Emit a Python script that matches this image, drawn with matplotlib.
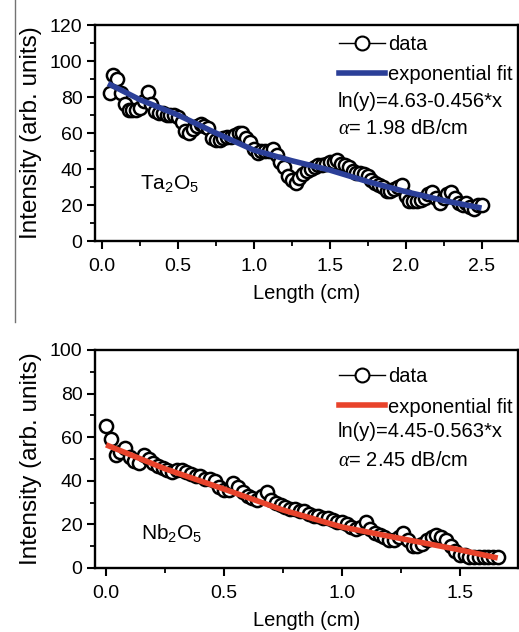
import matplotlib
matplotlib.use('Agg')
import matplotlib.pyplot as plt
from matplotlib.lines import Line2D
from matplotlib.ticker import MultipleLocator, FormatStrFormatter

plt.rcParams['font.family'] = ['Liberation Sans', 'DejaVu Sans']
plt.rcParams['mathtext.fontset'] = 'custom'
plt.rcParams['mathtext.rm'] = 'Liberation Sans'
plt.rcParams['mathtext.it'] = 'Liberation Serif:italic'

# Ta2O5 data (top panel)
ta_x = [0.050, 0.075, 0.100, 0.125, 0.150, 0.175, 0.200, 0.225, 0.250, 0.275,
        0.300, 0.325, 0.350, 0.375, 0.400, 0.425, 0.450, 0.475, 0.500, 0.525,
        0.550, 0.575, 0.600, 0.625, 0.650, 0.675, 0.700, 0.725, 0.750, 0.775,
        0.800, 0.825, 0.850, 0.875, 0.900, 0.925, 0.950, 0.975, 1.000, 1.025,
        1.050, 1.075, 1.100, 1.125, 1.150, 1.175, 1.200, 1.225, 1.250, 1.275,
        1.300, 1.325, 1.350, 1.375, 1.400, 1.425, 1.450, 1.475, 1.500, 1.525,
        1.550, 1.575, 1.600, 1.625, 1.650, 1.675, 1.700, 1.725, 1.750, 1.775,
        1.800, 1.825, 1.850, 1.875, 1.900, 1.925, 1.950, 1.975, 2.000, 2.025,
        2.050, 2.075, 2.100, 2.125, 2.150, 2.175, 2.200, 2.225, 2.250, 2.275,
        2.300, 2.325, 2.350, 2.375, 2.400, 2.425, 2.450, 2.475, 2.500]
ta_y = [82, 92, 90, 82, 76, 73, 73, 73, 74, 78,
        83, 76, 72, 71, 71, 70, 70, 70, 69, 66,
        61, 60, 62, 64, 65, 64, 63, 57, 56, 56,
        57, 58, 58, 59, 60, 60, 57, 55, 51, 49,
        50, 50, 50, 51, 48, 44, 41, 36, 34, 32,
        35, 37, 39, 40, 41, 42, 42, 43, 44, 44,
        45, 43, 42, 41, 39, 38, 38, 37, 36, 34,
        32, 31, 30, 28, 28, 29, 30, 31, 25, 22,
        22, 22, 23, 24, 26, 27, 24, 21, 24, 26,
        27, 24, 21, 20, 21, 19, 18, 20, 20]
ta_fit_x = [0.04, 0.25, 0.5, 0.75, 1.0, 1.25, 1.5, 1.75, 2.0, 2.25, 2.5]
ta_fit_y = [87.5, 78.5, 70.0, 60.0, 50.5, 44.6, 39.4, 33.0, 27.4, 22.5, 18.3]

# Nb2O5 data (bottom panel)
nb_x = [0.00, 0.02, 0.04, 0.06, 0.08, 0.10, 0.12, 0.14, 0.16, 0.18,
        0.20, 0.22, 0.24, 0.26, 0.28, 0.30, 0.32, 0.34, 0.36, 0.38,
        0.40, 0.42, 0.44, 0.46, 0.48, 0.50, 0.52, 0.54, 0.56, 0.58,
        0.60, 0.62, 0.64, 0.66, 0.68, 0.70, 0.72, 0.74, 0.76, 0.78,
        0.80, 0.82, 0.84, 0.86, 0.88, 0.90, 0.92, 0.94, 0.96, 0.98,
        1.00, 1.02, 1.04, 1.06, 1.08, 1.10, 1.12, 1.14, 1.16, 1.18,
        1.20, 1.22, 1.24, 1.26, 1.28, 1.30, 1.32, 1.34, 1.36, 1.38,
        1.40, 1.42, 1.44, 1.46, 1.48, 1.50, 1.52, 1.54, 1.56, 1.58,
        1.60, 1.62, 1.64, 1.66]
nb_y = [65, 59, 52, 53, 55, 51, 49, 48, 52, 50,
        48, 47, 46, 45, 44, 45, 45, 44, 43, 42,
        42, 41, 41, 40, 37, 36, 36, 39, 37, 35,
        33, 32, 31, 33, 35, 31, 30, 29, 28, 27,
        27, 26, 26, 25, 24, 24, 23, 23, 22, 21,
        21, 20, 19, 18, 19, 21, 18, 16, 15, 14,
        13, 13, 14, 16, 13, 10, 10, 11, 13, 14,
        15, 14, 13, 10, 8, 6, 6, 5, 5, 5,
        5, 5, 5, 5]
nb_fit_x = [0.0, 0.25, 0.5, 0.75, 1.0, 1.25, 1.5, 1.66]
nb_fit_y = [56.5, 45.5, 36.2, 26.6, 18.8, 13.5, 8.3, 4.6]

panels = [
    dict(x=ta_x, y=ta_y, fx=ta_fit_x, fy=ta_fit_y, color='#2B3F98',
         xlim=(-0.046, 2.74), ylim=(0, 120), ymaj=20, xticks=[0.0, 0.5, 1.0, 1.5, 2.0, 2.5],
         eq='ln(y)=4.63-0.456*x', alpha='1.98 dB/cm', name=r'Ta$_2$O$_5$', name_xy=(0.25, 32),
         leg_y=0.952, eq_y=(0.645, 0.520),
         rect=[95/519, 1-241/632, 423/519, 216/632]),
    dict(x=nb_x, y=nb_y, fx=nb_fit_x, fy=nb_fit_y, color='#E8432B',
         xlim=(-0.047, 1.746), ylim=(0, 100), ymaj=20, xticks=[0.0, 0.5, 1.0, 1.5],
         eq='ln(y)=4.45-0.563*x', alpha='2.45 dB/cm', name=r'Nb$_2$O$_5$', name_xy=(0.15, 16),
         leg_y=0.920, eq_y=(0.624, 0.495),
         rect=[95/519, 1-568/632, 423/519, 218/632]),
]

fig = plt.figure(figsize=(5.19, 6.32), dpi=100)

for p in panels:
    ax = fig.add_axes(p['rect'])
    ax.plot(p['x'], p['y'], '-o', color='black', lw=1, ms=9.5, mfc='white',
            mec='black', mew=1.8, zorder=2)
    ax.plot(p['fx'], p['fy'], '-', color=p['color'], lw=4, zorder=3,
            solid_capstyle='butt')
    ax.set_xlim(*p['xlim'])
    ax.set_ylim(*p['ylim'])
    ax.set_xticks(p['xticks'])
    ax.xaxis.set_minor_locator(MultipleLocator(0.25))
    ax.yaxis.set_major_locator(MultipleLocator(p['ymaj']))
    ax.yaxis.set_minor_locator(MultipleLocator(p['ymaj'] / 2))
    ax.xaxis.set_major_formatter(FormatStrFormatter('%.1f'))
    for s in ax.spines.values():
        s.set_linewidth(1.7)
    ax.tick_params(which='major', direction='out', length=6, width=1.5, labelsize=14, pad=6)
    ax.tick_params(axis='y', which='major', pad=3)
    ax.tick_params(which='minor', direction='out', length=3.5, width=1.3)
    ax.set_xlabel('Length (cm)', fontsize=14.5, labelpad=7)
    ax.set_ylabel('Intensity (arb. units)', fontsize=17.5, labelpad=6)

    handles = [Line2D([], [], color='black', lw=1, marker='o', ms=10, mfc='white', mec='black', mew=1.5),
               Line2D([], [], color=p['color'], lw=4)]
    ax.legend(handles, ['data', 'exponential fit'], loc='upper left',
              bbox_to_anchor=(0.577, p['leg_y']), frameon=False, fontsize=14.5,
              handlelength=2.3, handletextpad=0.15, labelspacing=0.55,
              borderpad=0, borderaxespad=0, numpoints=1)
    ax.text(0.574, p['eq_y'][0], p['eq'], transform=ax.transAxes, fontsize=14.5,
            va='center', ha='left', bbox=dict(facecolor='white', edgecolor='none', pad=1))
    ax.text(0.574, p['eq_y'][1], r'$\alpha$= ' + p['alpha'], transform=ax.transAxes, fontsize=14.5,
            va='center', ha='left', bbox=dict(facecolor='white', edgecolor='none', pad=1))
    ax.text(p['name_xy'][0], p['name_xy'][1], p['name'], fontsize=15, va='center', ha='left',
            bbox=dict(facecolor='white', edgecolor='none', pad=3))

# page border line on the left of the upper panel
fig.add_artist(Line2D([15/519, 15/519], [1, 1-322/632], color='0.45', lw=1))

fig.savefig('out.png', dpi=100)
